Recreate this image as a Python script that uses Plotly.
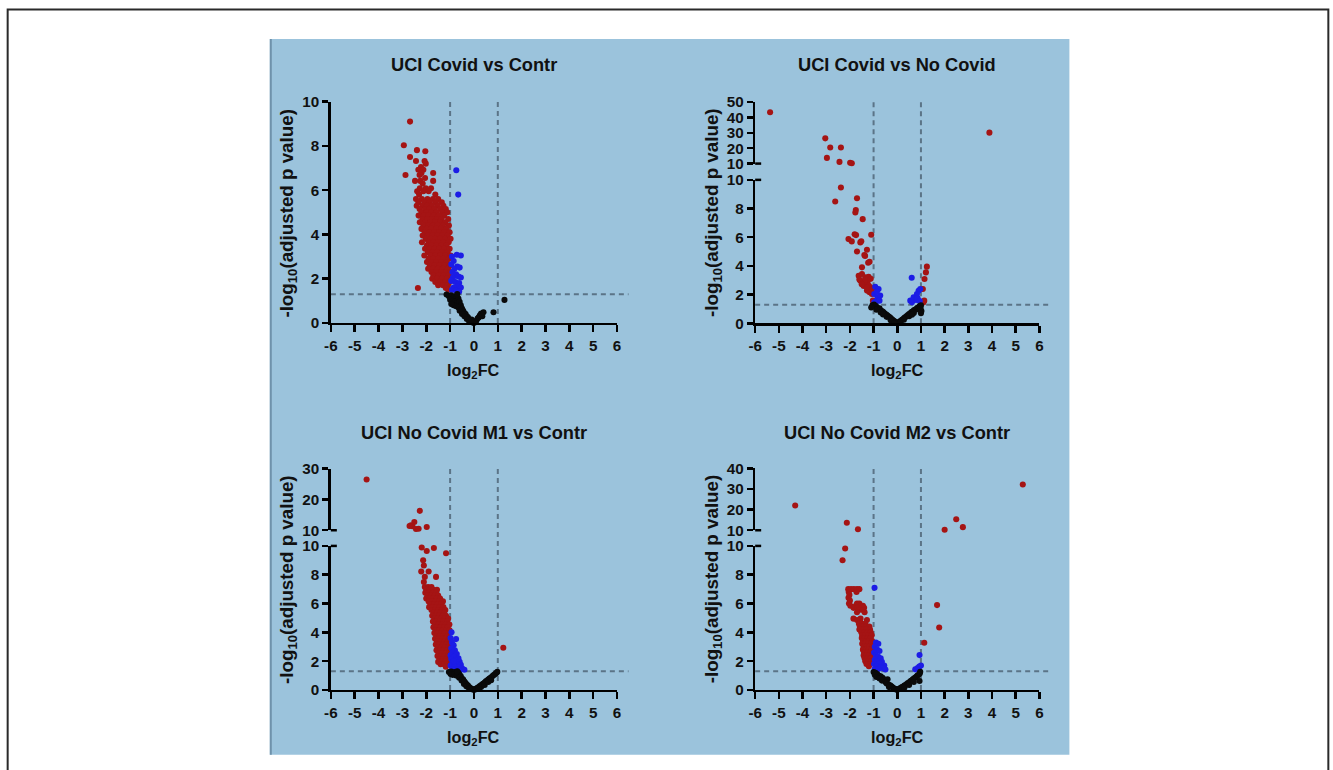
import plotly.graph_objects as go

# ---------------- data ----------------
titles = ["UCI Covid vs Contr", "UCI Covid vs No Covid",
          "UCI No Covid M1 vs Contr", "UCI No Covid M2 vs Contr"]
x_ticks = [-6, -5, -4, -3, -2, -1, 0, 1, 2, 3, 4, 5, 6]
x_tick_labels = ["-6", "-5", "-4", "-3", "-2", "-1", "0", "1", "2", "3", "4", "5", "6"]
low_ticks = [0, 2, 4, 6, 8, 10]
upper_tops = [None, 50, 30, 40]
sig_threshold = 1.3
fc_threshold = 1.0

p1_red = [(-2.68, 9.10), (-2.94, 8.03), (-2.39, 7.81), (-2.04, 7.76), (-2.68, 7.50), (-2.07, 7.32), (-2.43, 7.32),
          (-2.02, 7.20), (-2.22, 7.05), (-2.33, 6.92), (-2.12, 6.92), (-2.20, 6.78), (-1.71, 6.78), (-2.87, 6.69),
          (-2.28, 6.69), (-2.05, 6.55), (-2.47, 6.42), (-1.71, 6.42), (-2.25, 6.42), (-2.15, 6.30), (-1.80, 6.09),
          (-2.27, 6.09), (-2.02, 6.09), (-2.38, 5.95), (-2.12, 5.95), (-1.90, 5.95), (-2.30, 5.80), (-1.62, 5.80),
          (-1.50, 5.60), (-2.43, 5.60), (-2.18, 5.60), (-1.95, 5.60), (-1.72, 5.60),
          (-2.33, 5.45), (-2.08, 5.45), (-1.85, 5.45), (-1.60, 5.45), (-1.35, 5.45),
          (-2.40, 5.30), (-2.15, 5.30), (-1.97, 5.30), (-1.76, 5.30), (-1.52, 5.30), (-1.28, 5.30),
          (-2.28, 5.15), (-2.05, 5.15), (-1.87, 5.15), (-1.66, 5.15), (-1.42, 5.15), (-1.18, 5.15),
          (-2.20, 5.00), (-1.98, 5.00), (-1.78, 5.00), (-1.57, 5.00), (-1.33, 5.00), (-1.12, 5.00),
          (-2.32, 4.85), (-2.10, 4.85), (-1.90, 4.85), (-1.68, 4.85), (-1.47, 4.85), (-1.25, 4.85),
          (-2.16, 4.70), (-1.95, 4.70), (-1.75, 4.70), (-1.55, 4.70), (-1.36, 4.70), (-1.08, 4.70),
          (-2.27, 4.55), (-2.04, 4.55), (-1.83, 4.55), (-1.63, 4.55), (-1.42, 4.55), (-1.20, 4.55),
          (-2.12, 4.40), (-1.92, 4.40), (-1.72, 4.40), (-1.52, 4.40), (-1.30, 4.40), (-1.05, 4.40),
          (-2.20, 4.25), (-1.98, 4.25), (-1.79, 4.25), (-1.58, 4.25), (-1.38, 4.25), (-1.15, 4.25),
          (-2.06, 4.10), (-1.86, 4.10), (-1.66, 4.10), (-1.46, 4.10), (-1.24, 4.10), (-1.02, 4.10),
          (-2.15, 3.95), (-1.93, 3.95), (-1.73, 3.95), (-1.53, 3.95), (-1.33, 3.95), (-1.10, 3.95),
          (-2.02, 3.80), (-1.82, 3.80), (-1.62, 3.80), (-1.42, 3.80), (-1.20, 3.80), (-0.98, 3.80),
          (-2.18, 3.65), (-1.90, 3.65), (-1.70, 3.65), (-1.50, 3.65), (-1.28, 3.65), (-1.06, 3.65),
          (-1.97, 3.50), (-1.78, 3.50), (-1.58, 3.50), (-1.37, 3.50), (-1.15, 3.50),
          (-2.05, 3.35), (-1.86, 3.35), (-1.65, 3.35), (-1.45, 3.35), (-1.24, 3.35), (-1.02, 3.35),
          (-1.93, 3.20), (-1.73, 3.20), (-1.53, 3.20), (-1.32, 3.20), (-1.10, 3.20),
          (-2.08, 3.05), (-1.82, 3.05), (-1.62, 3.05), (-1.41, 3.05), (-1.19, 3.05), (-0.98, 3.05),
          (-1.90, 2.90), (-1.70, 2.90), (-1.49, 2.90), (-1.28, 2.90), (-1.06, 2.90),
          (-1.97, 2.75), (-1.78, 2.75), (-1.57, 2.75), (-1.36, 2.75), (-1.14, 2.75),
          (-1.85, 2.60), (-1.65, 2.60), (-1.44, 2.60), (-1.23, 2.60), (-1.01, 2.60),
          (-1.92, 2.45), (-1.72, 2.45), (-1.52, 2.45), (-1.31, 2.45), (-1.09, 2.45),
          (-1.78, 2.30), (-1.58, 2.30), (-1.38, 2.30), (-1.17, 2.30), (-0.99, 2.30),
          (-1.70, 2.15), (-1.48, 2.15), (-1.27, 2.15), (-1.06, 2.15),
          (-1.75, 2.00), (-1.55, 2.00), (-1.34, 2.00), (-1.13, 2.00),
          (-1.62, 1.85), (-1.42, 1.85), (-1.21, 1.85), (-1.02, 1.85),
          (-1.50, 1.70), (-1.30, 1.70), (-1.10, 1.70),
          (-2.35, 1.58), (-1.18, 1.58), (-1.08, 1.50)]
p1_blue = [(-0.74, 6.90), (-0.66, 5.80), (-0.72, 3.08), (-0.55, 3.05), (-0.92, 3.00), (-0.85, 2.80), (-0.95, 2.65),
           (-0.70, 2.55), (-0.82, 2.45), (-0.60, 2.50), (-0.90, 2.30), (-0.75, 2.20), (-0.65, 2.10), (-0.55, 2.05),
           (-0.88, 2.05), (-0.95, 1.90), (-0.78, 1.85), (-0.62, 1.80), (-0.70, 1.65), (-0.85, 1.60), (-0.55, 1.60),
           (-0.92, 1.50), (-0.75, 1.45), (-0.62, 1.42)]
p1_black = [(-1.15, 1.28), (-1.05, 1.20), (-0.95, 1.25), (-0.85, 1.15), (-0.75, 1.22), (-0.65, 1.10), (-1.00, 1.05),
            (-0.90, 0.98), (-0.80, 0.95), (-0.70, 0.90), (-0.60, 0.95), (-0.55, 0.80), (-0.85, 0.80), (-0.75, 0.75),
            (-0.65, 0.70), (-0.50, 0.65), (-0.45, 0.55), (-0.60, 0.55), (-0.40, 0.45), (-0.35, 0.40), (-0.50, 0.40),
            (-0.30, 0.30), (-0.25, 0.25), (-0.40, 0.30), (-0.20, 0.15), (-0.15, 0.10), (-0.10, 0.05), (-0.05, 0.02),
            (0.00, 0.00), (0.05, 0.05), (-0.30, 0.18), (0.10, 0.10), (0.15, 0.20), (0.20, 0.25), (0.25, 0.35),
            (0.30, 0.42), (0.40, 0.48), (0.35, 0.30), (0.82, 0.48), (1.28, 1.04), (-0.70, 1.30), (-0.95, 0.85),
            (-0.20, 0.05), (-0.10, 0.15)]

p2_red = [(-5.37, 43.3), (-3.04, 26.4), (-2.83, 20.4), (-2.97, 13.7), (-2.38, 20.4), (-2.44, 11.1), (-1.99, 10.6),
          (-1.92, 10.2), (3.89, 30.1),
          (-2.38, 9.47), (-2.62, 8.49), (-1.70, 8.72), (-1.75, 7.90), (-1.77, 7.73), (-1.46, 7.26), (-2.06, 5.87),
          (-1.92, 5.71), (-1.80, 6.20), (-1.74, 6.15), (-1.56, 5.64), (-1.52, 5.72), (-1.10, 6.17), (-1.70, 5.01),
          (-1.28, 5.13), (-1.39, 4.76), (-1.36, 4.70), (-1.23, 4.22), (-1.17, 4.29), (-1.49, 3.90),
          (-1.63, 3.32), (-1.49, 3.44), (-1.35, 3.20), (-1.21, 3.25), (-1.56, 2.97), (-1.42, 2.85), (-1.26, 2.85),
          (-1.14, 2.51), (-1.28, 2.28), (-1.17, 2.16), (-1.07, 2.05), (-1.60, 3.05), (-1.42, 2.60), (-1.20, 2.62),
          (-1.35, 3.05), (-1.12, 3.10), (-1.28, 2.50), (-1.50, 2.72), (-1.05, 2.35), (-1.03, 1.58),
          (1.25, 3.95), (1.21, 3.55), (1.15, 3.09), (1.08, 2.39), (1.14, 1.58), (1.10, 1.45)]
p2_blue = [(-0.93, 2.55), (-0.79, 2.39), (-0.97, 2.04), (-0.83, 1.81), (-0.72, 1.93), (-0.89, 1.53), (-0.75, 1.58),
           (-0.97, 1.46), (-0.86, 2.20), (0.61, 3.18), (0.55, 1.58), (0.69, 1.81), (0.83, 2.04), (0.90, 2.27),
           (0.97, 2.39), (0.79, 1.62), (0.62, 1.46), (0.86, 1.74), (0.95, 1.55)]
p2_black = [(-1.05, 1.25), (-0.98, 1.30), (-0.95, 1.15), (-0.90, 1.20), (-0.85, 1.10), (-0.80, 1.00), (-0.75, 1.05),
            (-0.72, 0.92), (-0.65, 0.85), (-0.60, 0.80), (-0.55, 0.72), (-0.50, 0.65), (-0.45, 0.60), (-0.40, 0.52),
            (-0.35, 0.45), (-0.30, 0.40), (-0.25, 0.32), (-0.20, 0.25), (-0.15, 0.18), (-0.10, 0.12), (-0.05, 0.06),
            (0.00, 0.01), (0.05, 0.05), (0.10, 0.12), (0.15, 0.17), (0.20, 0.24), (0.25, 0.30), (0.30, 0.38),
            (0.35, 0.44), (0.40, 0.50), (0.45, 0.58), (0.50, 0.64), (0.55, 0.70), (0.60, 0.78), (0.65, 0.82),
            (0.70, 0.90), (0.75, 0.95), (0.80, 1.00), (0.85, 1.08), (0.90, 1.12), (0.95, 1.20), (1.00, 1.25),
            (-0.88, 0.95), (-0.70, 0.75), (-0.45, 0.45), (-0.28, 0.22), (0.28, 0.25), (0.50, 0.50), (0.70, 0.72),
            (0.92, 0.95), (1.02, 0.85), (-1.10, 1.10), (0.98, 1.05), (-0.60, 0.62), (0.62, 0.60), (-0.12, 0.02),
            (0.12, 0.03), (1.00, 0.70)]

p3_red = [(-4.50, 26.5), (-2.27, 16.3), (-2.50, 12.7), (-2.64, 11.6), (-2.58, 11.3), (-2.43, 10.4), (-2.32, 10.5),
          (-1.98, 11.07), (-2.70, 11.4),
          (-2.19, 9.89), (-1.98, 9.65), (-1.68, 9.86), (-1.17, 9.49), (-2.13, 9.01), (-2.10, 8.64), (-2.21, 8.22),
          (-1.90, 8.22), (-2.06, 7.85), (-1.59, 7.85), (-2.10, 7.50),
          (-2.06, 7.15), (-1.92, 7.15), (-1.78, 7.15),
          (-2.00, 6.95), (-1.85, 6.95), (-1.70, 6.95), (-1.55, 6.95),
          (-2.04, 6.75), (-1.88, 6.75), (-1.73, 6.75), (-1.58, 6.75),
          (-1.95, 6.55), (-1.80, 6.55), (-1.64, 6.55), (-1.50, 6.55),
          (-2.00, 6.35), (-1.85, 6.35), (-1.70, 6.35), (-1.56, 6.35), (-1.42, 6.35),
          (-1.90, 6.15), (-1.75, 6.15), (-1.60, 6.15), (-1.45, 6.15), (-1.30, 6.15),
          (-1.82, 5.95), (-1.67, 5.95), (-1.52, 5.95), (-1.38, 5.95),
          (-1.88, 5.75), (-1.73, 5.75), (-1.58, 5.75), (-1.44, 5.75), (-1.28, 5.75),
          (-1.78, 5.55), (-1.63, 5.55), (-1.49, 5.55), (-1.34, 5.55), (-1.20, 5.55),
          (-1.70, 5.35), (-1.55, 5.35), (-1.40, 5.35), (-1.25, 5.35),
          (-1.75, 5.15), (-1.60, 5.15), (-1.46, 5.15), (-1.31, 5.15), (-1.17, 5.15),
          (-1.66, 4.95), (-1.52, 4.95), (-1.37, 4.95), (-1.22, 4.95), (-1.08, 4.95),
          (-1.72, 4.75), (-1.58, 4.75), (-1.43, 4.75), (-1.28, 4.75), (-1.12, 4.75),
          (-1.64, 4.55), (-1.49, 4.55), (-1.34, 4.55), (-1.18, 4.55), (-1.03, 4.55),
          (-1.70, 4.35), (-1.55, 4.35), (-1.40, 4.35), (-1.25, 4.35), (-1.10, 4.35),
          (-1.61, 4.15), (-1.46, 4.15), (-1.31, 4.15), (-1.16, 4.15), (-1.02, 4.15),
          (-1.66, 3.95), (-1.52, 3.95), (-1.37, 3.95), (-1.22, 3.95), (-1.07, 3.95),
          (-1.58, 3.75), (-1.43, 3.75), (-1.28, 3.75), (-1.13, 3.75),
          (-1.63, 3.55), (-1.48, 3.55), (-1.33, 3.55), (-1.18, 3.55), (-1.04, 3.55),
          (-1.55, 3.35), (-1.40, 3.35), (-1.25, 3.35), (-1.10, 3.35),
          (-1.60, 3.15), (-1.45, 3.15), (-1.30, 3.15), (-1.15, 3.15), (-1.02, 3.15),
          (-1.52, 2.95), (-1.37, 2.95), (-1.22, 2.95), (-1.07, 2.95),
          (-1.57, 2.75), (-1.42, 2.75), (-1.27, 2.75), (-1.12, 2.75),
          (-1.48, 2.55), (-1.33, 2.55), (-1.18, 2.55), (-1.04, 2.55),
          (-1.53, 2.35), (-1.38, 2.35), (-1.23, 2.35), (-1.09, 2.35),
          (-1.44, 2.15), (-1.30, 2.15), (-1.15, 2.15), (-1.02, 2.15),
          (-1.50, 1.95), (-1.35, 1.95), (-1.20, 1.95), (-1.06, 1.95),
          (-1.40, 1.78), (-1.26, 1.78), (-1.12, 1.78), (-1.18, 1.62),
          (1.23, 2.93)]
p3_blue = [(-0.94, 4.00), (-0.75, 3.53), (-0.98, 3.60), (-0.92, 3.30), (-0.85, 3.10), (-0.95, 2.90), (-0.80, 2.75),
           (-0.90, 2.60), (-0.72, 2.50), (-0.98, 2.40), (-0.85, 2.30), (-0.65, 2.20), (-0.95, 2.15), (-0.78, 2.05),
           (-0.60, 1.95), (-0.90, 1.90), (-0.70, 1.80), (-0.55, 1.75), (-0.98, 1.70), (-0.82, 1.65), (-0.62, 1.60),
           (-0.50, 1.50), (-0.90, 1.45), (-0.70, 1.42), (-0.40, 1.40), (-0.85, 2.00), (-0.60, 1.35)]
p3_black = [(-1.05, 1.25), (-0.95, 1.28), (-0.88, 1.20), (-0.80, 1.25), (-0.72, 1.18), (-0.65, 1.20), (-0.98, 1.10),
            (-0.90, 1.05), (-0.82, 1.08), (-0.75, 1.00), (-0.68, 0.98), (-0.60, 1.05), (-0.55, 0.95), (-0.62, 0.85),
            (-0.50, 0.80), (-0.45, 0.72), (-0.52, 0.65), (-0.40, 0.58), (-0.35, 0.48), (-0.42, 0.42), (-0.30, 0.38),
            (-0.25, 0.30), (-0.32, 0.25), (-0.20, 0.20), (-0.15, 0.14), (-0.10, 0.08), (-0.05, 0.04), (0.00, 0.01),
            (0.05, 0.04), (0.10, 0.10), (0.15, 0.15), (0.20, 0.20), (0.25, 0.28), (0.30, 0.32), (0.35, 0.40),
            (0.40, 0.45), (0.45, 0.52), (0.50, 0.60), (0.55, 0.65), (0.60, 0.72), (0.65, 0.80), (0.70, 0.85),
            (0.75, 0.92), (0.80, 1.00), (0.85, 1.05), (0.90, 1.12), (0.95, 1.20), (0.98, 1.27), (0.30, 0.20),
            (0.45, 0.35), (0.60, 0.55), (0.20, 0.08), (-0.20, 0.08), (0.72, 0.68), (-0.70, 1.30)]

p4_red = [(-4.31, 22.0), (-2.13, 13.6), (-1.66, 10.5), (2.00, 10.2), (2.49, 15.3), (2.77, 11.5), (5.30, 32.2),
          (-2.20, 9.82), (-2.31, 9.00), (1.68, 5.89), (1.77, 4.34), (1.14, 3.28),
          (-2.07, 7.00), (-1.95, 7.00), (-1.83, 7.00), (-1.70, 7.00), (-1.60, 7.00),
          (-2.05, 6.80), (-1.72, 6.80), (-2.02, 6.60), (-2.06, 6.40), (-2.00, 6.20),
          (-2.04, 6.00), (-1.70, 6.00), (-1.60, 6.00),
          (-1.98, 5.85), (-1.75, 5.85), (-1.55, 5.85), (-1.45, 5.85),
          (-1.85, 5.70), (-1.68, 5.70), (-1.50, 5.70), (-1.40, 5.70),
          (-1.62, 5.55), (-1.45, 5.55), (-1.70, 5.40), (-1.38, 5.40),
          (-1.85, 4.95), (-1.55, 4.95), (-1.70, 4.85), (-1.28, 4.85),
          (-1.62, 4.60), (-1.48, 4.60), (-1.35, 4.60),
          (-1.58, 4.40), (-1.45, 4.40), (-1.30, 4.40), (-1.18, 4.40),
          (-1.60, 4.20), (-1.42, 4.20), (-1.30, 4.20), (-1.15, 4.20),
          (-1.52, 4.00), (-1.38, 4.00), (-1.25, 4.00), (-1.12, 4.00),
          (-1.48, 3.80), (-1.35, 3.80), (-1.22, 3.80), (-1.08, 3.80),
          (-1.50, 3.60), (-1.38, 3.60), (-1.25, 3.60), (-1.12, 3.60),
          (-1.45, 3.40), (-1.32, 3.40), (-1.20, 3.40), (-1.06, 3.40),
          (-1.48, 3.20), (-1.35, 3.20), (-1.22, 3.20), (-1.10, 3.20),
          (-1.42, 3.00), (-1.30, 3.00), (-1.18, 3.00), (-1.05, 3.00),
          (-1.45, 2.80), (-1.32, 2.80), (-1.20, 2.80), (-1.08, 2.80),
          (-1.40, 2.60), (-1.28, 2.60), (-1.15, 2.60),
          (-1.42, 2.40), (-1.30, 2.40), (-1.18, 2.40), (-1.05, 2.40),
          (-1.38, 2.20), (-1.25, 2.20), (-1.12, 2.20),
          (-1.35, 2.00), (-1.22, 2.00), (-1.08, 2.00),
          (-1.30, 1.80), (-1.15, 1.80), (-1.20, 1.65)]
p4_blue = [(-0.96, 7.09), (-0.90, 3.30), (-0.80, 3.20), (-0.95, 3.00), (-0.85, 2.80), (-0.98, 2.60), (-0.75, 2.70),
           (-0.90, 2.40), (-0.80, 2.30), (-0.70, 2.20), (-0.95, 2.10), (-0.85, 2.00), (-0.65, 1.95), (-0.75, 1.85),
           (-0.98, 1.80), (-0.55, 1.70), (-0.88, 1.65), (-0.70, 1.60), (-0.60, 1.50), (-0.95, 1.45), (-0.80, 1.45),
           (-0.50, 1.42), (0.94, 2.42), (0.93, 1.62), (0.76, 1.43), (0.86, 1.52), (1.00, 1.70)]
p4_black = [(-1.00, 1.25), (-0.92, 1.20), (-0.85, 1.10), (-0.95, 1.05), (-0.78, 1.00), (-0.70, 0.95), (-0.88, 0.90),
            (-0.62, 0.85), (-0.75, 0.80), (-0.55, 0.72), (-0.41, 0.74), (-0.65, 0.65), (-0.50, 0.55), (-0.45, 0.45),
            (-0.38, 0.40), (-0.30, 0.32), (-0.25, 0.25), (-0.20, 0.18), (-0.15, 0.12), (-0.10, 0.08), (-0.05, 0.04),
            (0.00, 0.01), (0.05, 0.05), (0.10, 0.10), (0.15, 0.15), (0.20, 0.20), (0.25, 0.24), (0.30, 0.30),
            (0.35, 0.35), (0.40, 0.42), (0.45, 0.48), (0.50, 0.52), (0.55, 0.60), (0.60, 0.65), (0.65, 0.72),
            (0.70, 0.80), (0.75, 0.85), (0.80, 0.92), (0.85, 1.00), (0.90, 1.05), (0.95, 1.15), (0.97, 1.27),
            (0.94, 0.62), (-0.35, 0.20), (0.30, 0.15), (0.50, 0.35), (0.70, 0.55)]

panel_data = [
    (p1_red, p1_blue, p1_black),
    (p2_red, p2_blue, p2_black),
    (p3_red, p3_blue, p3_black),
    (p4_red, p4_blue, p4_black),
]

# ---------------- styling / layout ----------------
W, H = 1333, 770
# the photographed page arrives slightly framed and rescaled; these factors map
# intended picture pixels back to figure pixels
SX, OX = 0.991, 7.4
SY, OY = 770 / 786, 8 * 770 / 786
K = 1 / ((SX + SY) / 2)          # size compensation for the downscale

FONT = "Liberation Sans, Arial, sans-serif"
TXT = "#111111"
COLORS = ["#A51414", "#1C1CE6", "#0A0A0A"]
PANEL_BG = "#9BC3DC"
DASH = "#5B7487"

# target pixel geometry of each panel: x span, lower y segment (bottom, top), upper y segment (bottom, top)
geom = [
    dict(x=(331, 617), low=(322.3, 100.7), up=None, title_y=63, xt_y=370, yt_x=288, yt_y=212),
    dict(x=(755, 1039), low=(322.7, 179.0), up=(162.7, 101.0), title_y=63, xt_y=370, yt_x=713, yt_y=212),
    dict(x=(331, 617), low=(690.0, 545.7), up=(530.0, 468.3), title_y=432, xt_y=738, yt_x=288, yt_y=579),
    dict(x=(755, 1039), low=(690.0, 545.7), up=(530.0, 468.0), title_y=432, xt_y=738, yt_x=713, yt_y=579),
]


def fx(px):
    return min(max((px - OX) / SX / W, 0.0005), 0.9995)


def fy(py):
    return 1 - (py - OY) / SY / H


fig = go.Figure()
layout = dict(
    width=W, height=H, autosize=False,
    margin=dict(l=0, r=0, t=0, b=0, pad=0),
    paper_bgcolor="white", plot_bgcolor="rgba(0,0,0,0)",
    showlegend=False,
    font=dict(family=FONT, color=TXT),
)
shapes = [
    dict(type="rect", xref="paper", yref="paper", x0=fx(7), x1=fx(1329), y0=min(fy(6.5), 0.9993), y1=fy(820),
         line=dict(color="#2a2a2a", width=2), fillcolor="rgba(0,0,0,0)", layer="below"),
    dict(type="rect", xref="paper", yref="paper", x0=fx(270), x1=fx(1069), y0=fy(38), y1=fy(755),
         line=dict(width=0), fillcolor=PANEL_BG, layer="below"),
    dict(type="rect", xref="paper", yref="paper", x0=fx(270), x1=fx(272), y0=fy(38), y1=fy(755),
         line=dict(width=0), fillcolor="#6f92ab", layer="below"),
]
annotations = []

axis_common = dict(
    showgrid=False, zeroline=False, showline=True, linecolor="#000", linewidth=2.5,
    ticks="outside", tickcolor="#000", tickwidth=2.5,
    tickfont=dict(family=FONT, size=15 * K, color=TXT, weight="bold"),
    fixedrange=True,
)

yid = 0
for i, g in enumerate(geom):
    xname = "x" if i == 0 else f"x{i + 1}"
    xkey = "xaxis" if i == 0 else f"xaxis{i + 1}"
    yid += 1
    ylow = "y" if yid == 1 else f"y{yid}"
    ylow_key = "yaxis" if yid == 1 else f"yaxis{yid}"
    layout[xkey] = dict(axis_common, domain=[fx(g["x"][0]), fx(g["x"][1])], range=[x_ticks[0], x_ticks[-1]],
                        tickvals=x_ticks, ticktext=x_tick_labels, ticklen=7, anchor=ylow)
    layout[ylow_key] = dict(axis_common, domain=[fy(g["low"][0]), fy(g["low"][1])], range=[0, 10],
                            tickvals=low_ticks, ticklen=6, anchor=xname)
    yup = None
    top_px = g["low"][1]
    if g["up"] is not None:
        yid += 1
        yup = f"y{yid}"
        top = upper_tops[i]
        layout[f"yaxis{yid}"] = dict(axis_common, domain=[fy(g["up"][0]), fy(g["up"][1])], range=[10, top],
                                     tickvals=list(range(10, top + 1, 10)), ticklen=6, anchor=xname)
        top_px = g["up"][1]
        # inner half of the cross ticks at the axis break
        for py in (g["low"][1], g["up"][0]):
            shapes.append(dict(type="line", xref="paper", yref="paper", x0=fx(g["x"][0]), x1=fx(g["x"][0] + 6),
                               y0=fy(py), y1=fy(py), line=dict(color="#000", width=2.5)))

    # threshold lines
    for xv in (-fc_threshold, fc_threshold):
        shapes.append(dict(type="line", xref=xname, yref="paper", x0=xv, x1=xv,
                           y0=fy(g["low"][0]), y1=fy(top_px),
                           line=dict(color=DASH, width=2, dash="5px,4px"), layer="below"))
    shapes.append(dict(type="line", xref=f"{xname} domain", yref=ylow, x0=0, x1=1.04,
                       y0=sig_threshold, y1=sig_threshold,
                       line=dict(color=DASH, width=2, dash="5px,4px"), layer="below"))

    # points
    for series, col in zip(panel_data[i], COLORS):
        lo = [(a, b) for a, b in series if b <= 10]
        hi = [(a, b) for a, b in series if b > 10]
        for pts, ya in ((lo, ylow), (hi, yup)):
            if not pts or ya is None:
                continue
            fig.add_trace(go.Scatter(
                x=[p[0] for p in pts], y=[p[1] for p in pts], xaxis=xname, yaxis=ya,
                mode="markers", marker=dict(size=6 * K, color=col, line=dict(width=0)),
                cliponaxis=False, hoverinfo="skip"))

    xc = fx((g["x"][0] + g["x"][1]) / 2)
    annotations.append(dict(text=f"<b>{titles[i]}</b>", x=xc, y=fy(g["title_y"]), xref="paper", yref="paper",
                            showarrow=False, xanchor="center", yanchor="middle",
                            font=dict(family=FONT, size=18 * K, color=TXT)))
    annotations.append(dict(text="<b>log<sub>2</sub>FC</b>", x=xc, y=fy(g["xt_y"]), xref="paper", yref="paper",
                            showarrow=False, xanchor="center", yanchor="middle",
                            font=dict(family=FONT, size=16 * K, color=TXT)))
    annotations.append(dict(text="<b>-log<sub>10</sub>(adjusted p value)</b>", x=fx(g["yt_x"]), y=fy(g["yt_y"]),
                            xref="paper", yref="paper", showarrow=False, textangle=-90,
                            xanchor="center", yanchor="middle",
                            font=dict(family=FONT, size=18.5 * K, color=TXT)))

layout["shapes"] = shapes
layout["annotations"] = annotations
fig.update_layout(**layout)
fig.write_html(
    "out.html",
    config={"displayModeBar": False, "staticPlot": True},
    post_script=(
        "document.documentElement.style.margin='0';document.documentElement.style.padding='0';"
        "document.documentElement.style.overflow='hidden';"
        "document.body.style.margin='0';document.body.style.padding='0';document.body.style.overflow='hidden';"
        "var gd=document.getElementById('{plot_id}');gd.style.position='fixed';gd.style.left='0px';"
        "gd.style.top='0px';"
    ),
)
